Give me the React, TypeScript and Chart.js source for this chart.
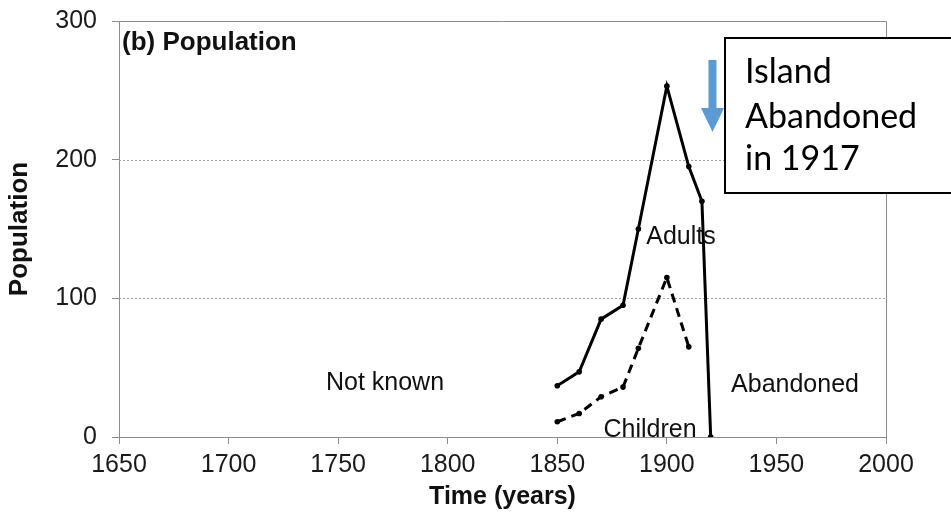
import React, { useEffect, useRef } from "react";
import { Chart, registerables } from "chart.js";

Chart.register(...registerables);

// Population of the island, 1850–1920
const adultYears = [1850, 1860, 1870, 1880, 1887, 1900, 1910, 1916, 1920];
const adultCounts = [37, 47, 85, 95, 150, 253, 195, 170, 0];
const childYears = [1850, 1860, 1870, 1880, 1887, 1900, 1910];
const childCounts = [11, 17, 29, 36, 64, 115, 65];

const xTicks = [1650, 1700, 1750, 1800, 1850, 1900, 1950, 2000];
const yTicks = [0, 100, 200, 300];

const SANS = "'Liberation Sans', Arial, sans-serif";

const toPoints = (xs: number[], ys: number[]) => xs.map((x, i) => ({ x, y: ys[i] }));

// Dotted grid and the grey frame around the plot
const framePlugin = {
  id: "frame",
  beforeDatasetsDraw(chart: any) {
    const { ctx, chartArea, scales } = chart;
    const { left, right, top, bottom } = chartArea;
    ctx.save();
    ctx.strokeStyle = "#a0a0a0";
    ctx.lineWidth = 1;
    ctx.setLineDash([2, 2]);
    for (const v of yTicks) {
      if (v === yTicks[0] || v === yTicks[yTicks.length - 1]) continue;
      const y = Math.round(scales.y.getPixelForValue(v)) + 0.5;
      ctx.beginPath();
      ctx.moveTo(left, y);
      ctx.lineTo(right, y);
      ctx.stroke();
    }
    ctx.setLineDash([]);
    ctx.strokeStyle = "#8c8c8c";
    ctx.beginPath();
    ctx.moveTo(left, Math.round(top) + 0.5);
    ctx.lineTo(Math.round(right) + 0.5, Math.round(top) + 0.5);
    ctx.lineTo(Math.round(right) + 0.5, bottom);
    ctx.stroke();

    // region labels, underneath the lines
    ctx.fillStyle = "#111";
    ctx.font = `25px ${SANS}`;
    ctx.textAlign = "center";
    ctx.textBaseline = "middle";
    ctx.fillText("Not known", 385, 383);
    ctx.fillText("Adults", 681, 237);
    ctx.fillText("Children", 650, 430);
    ctx.fillText("Abandoned", 795, 385);

    ctx.font = `bold 26px ${SANS}`;
    ctx.textAlign = "left";
    ctx.fillText("(b) Population", left + 3, 43);
    ctx.restore();
  },
  afterDatasetsDraw(chart: any) {
    const { ctx } = chart;
    ctx.save();
    // callout box
    ctx.fillStyle = "#fff";
    ctx.fillRect(725, 38, 240, 155);
    ctx.strokeStyle = "#000";
    ctx.lineWidth = 2;
    ctx.strokeRect(725, 38, 240, 155);

    // blue arrow
    ctx.fillStyle = "#5b9bd5";
    ctx.beginPath();
    ctx.moveTo(708.5, 60);
    ctx.lineTo(716.5, 60);
    ctx.lineTo(716.5, 108);
    ctx.lineTo(724, 108);
    ctx.lineTo(712.5, 132);
    ctx.lineTo(701, 108);
    ctx.lineTo(708.5, 108);
    ctx.closePath();
    ctx.fill();

    // box text
    ctx.font = `100px Lato, 'Open Sans', sans-serif`;
    const w = ctx.measureText("Abandoned").width;
    const size = (172 / w) * 100;
    ctx.font = `${size.toFixed(1)}px Lato, 'Open Sans', sans-serif`;
    ctx.fillStyle = "#000";
    ctx.textAlign = "left";
    ctx.textBaseline = "alphabetic";
    ctx.fillText("Island", 745, 83);
    ctx.fillText("Abandoned", 745, 128);
    ctx.fillText("in 1917", 745, 170);
    ctx.restore();
  },
};

export default function App() {
  const ref = useRef<HTMLCanvasElement>(null);

  useEffect(() => {
    if (!ref.current) return;
    const chart = new Chart(ref.current, {
      type: "line",
      data: {
        datasets: [
          {
            label: "Adults",
            data: toPoints(adultYears, adultCounts),
            borderColor: "#000",
            backgroundColor: "#000",
            borderWidth: 3,
            pointRadius: 2.8,
            pointBorderWidth: 0,
            pointBackgroundColor: "#000",
            tension: 0,
          },
          {
            label: "Children",
            data: toPoints(childYears, childCounts),
            borderColor: "#000",
            backgroundColor: "#000",
            borderWidth: 3,
            borderDash: [9, 6],
            pointRadius: 2.8,
            pointBorderWidth: 0,
            pointBackgroundColor: "#000",
            tension: 0,
          },
        ],
      },
      options: {
        responsive: false,
        animation: false,
        devicePixelRatio: 1,
        layout: { padding: { top: 21, right: 65, left: 0, bottom: 0 } },
        plugins: {
          legend: { display: false },
          tooltip: { enabled: false },
        },
        scales: {
          x: {
            type: "linear",
            min: xTicks[0],
            max: xTicks[xTicks.length - 1],
            afterBuildTicks: (s: any) => {
              s.ticks = xTicks.map((v) => ({ value: v }));
            },
            afterFit: (s: any) => {
              s.height = 92;
              s.paddingLeft = 0;
              s.paddingRight = 0;
            },
            ticks: {
              font: { family: SANS, size: 25 },
              color: "#1a1a1a",
              padding: 6,
              maxRotation: 0,
              callback: (v: any) => String(v),
            },
            grid: {
              drawOnChartArea: false,
              tickLength: 7,
              tickColor: "#8c8c8c",
            },
            border: { color: "#8c8c8c", width: 1 },
            title: {
              display: true,
              text: "Time (years)",
              font: { family: SANS, size: 25, weight: "bold" },
              color: "#111",
              padding: { top: 0, bottom: 17 },
            },
          },
          y: {
            type: "linear",
            min: yTicks[0],
            max: yTicks[yTicks.length - 1],
            afterBuildTicks: (s: any) => {
              s.ticks = yTicks.map((v) => ({ value: v }));
            },
            afterFit: (s: any) => {
              s.width = 119;
              s.paddingTop = 0;
              s.paddingBottom = 0;
            },
            ticks: {
              font: { family: SANS, size: 25 },
              color: "#1a1a1a",
              padding: 15,
              callback: (v: any) => String(v),
            },
            grid: {
              drawOnChartArea: false,
              tickLength: 7,
              tickColor: "#8c8c8c",
            },
            border: { color: "#8c8c8c", width: 1 },
            title: {
              display: true,
              text: "Population",
              font: { family: SANS, size: 26, weight: "bold" },
              color: "#111",
              padding: { top: 4, bottom: 0 },
            },
          },
        },
      },
      plugins: [framePlugin],
    });
    return () => chart.destroy();
  }, []);

  return (
    <div style={{ position: "fixed", left: 0, top: 0, width: 951, height: 529, background: "#fff" }}>
      <canvas ref={ref} width={951} height={529} />
    </div>
  );
}
